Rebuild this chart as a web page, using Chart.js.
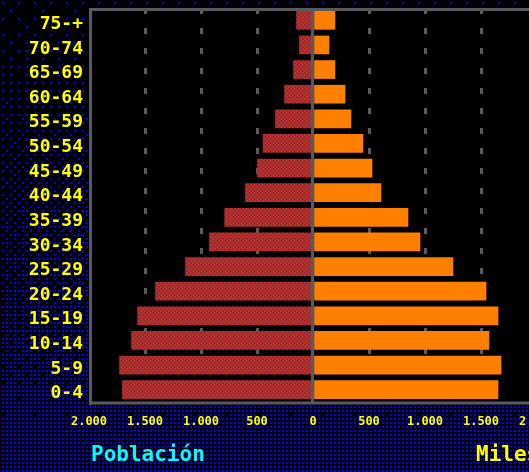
<!DOCTYPE html>
<html>
<head>
<meta charset="utf-8">
<script src="https://cdn.jsdelivr.net/npm/chart.js@4"></script>
<style>
  html, body { margin: 0; padding: 0; background: #000; overflow: hidden; }
  #wrap { position: relative; width: 529px; height: 472px; overflow: hidden; }
  #c { position: absolute; left: 0; top: 0; }
  .cap { position: absolute; top: 444px; font: bold 21px "DejaVu Sans Mono", monospace; line-height: 21px; white-space: nowrap; }
</style>
</head>
<body>
<div id="wrap">
  <canvas id="c" width="545" height="472" style="width:545px;height:472px"></canvas>
  <div class="cap" style="left:91px;color:#00ffff">Población</div>
  <div class="cap" style="left:476px;color:#ffff00">Miles</div>
</div>
<script>
"use strict";

/* ---- Data (miles de personas) ---- */
const AGE_GROUPS = ["75-+", "70-74", "65-69", "60-64", "55-59", "50-54", "45-49", "40-44",
                    "35-39", "30-34", "25-29", "20-24", "15-19", "10-14", "5-9", "0-4"];
const LEFT_VALUES  = [147, 121, 174, 254, 335, 445, 496, 603, 788, 924, 1138, 1406, 1566, 1620, 1727, 1701];
const RIGHT_VALUES = [196, 143, 196, 286, 339, 446, 527, 607, 848, 955, 1250, 1545, 1652, 1571, 1679, 1652];
const X_MIN = -2000, X_MAX = 2000, X_STEP = 500;

const GREY = "#5a5a5a";

/* ---- Red / grey checker fill for the left bars ---- */
function checker() {
  const c = document.createElement("canvas");
  c.width = 4; c.height = 4;
  const g = c.getContext("2d");
  g.fillStyle = GREY;    g.fillRect(0, 0, 4, 4);
  g.fillStyle = "#ff0000";
  g.fillRect(0, 0, 2, 2); g.fillRect(2, 2, 2, 2);
  return g.createPattern(c, "repeat");
}

/* ---- Blue dithered backdrop, black plot area ---- */
const BAYER = [
  [0, 32, 8, 40, 2, 34, 10, 42], [48, 16, 56, 24, 50, 18, 58, 26],
  [12, 44, 4, 36, 14, 46, 6, 38], [60, 28, 52, 20, 62, 30, 54, 22],
  [3, 35, 11, 43, 1, 33, 9, 41],  [51, 19, 59, 27, 49, 17, 57, 25],
  [15, 47, 7, 39, 13, 45, 5, 37], [63, 31, 55, 23, 61, 29, 53, 21],
];

const backdrop = {
  id: "backdrop",
  beforeDraw(chart) {
    const { ctx, width, height, chartArea: a } = chart;
    ctx.save();
    ctx.fillStyle = "#000";
    ctx.fillRect(0, 0, width, height);
    ctx.fillStyle = "#0000ff";
    for (let gy = 0; gy * 4 < height; gy++) {
      const y = gy * 4 + 2;
      const d = Math.min(1, 0.05 + 0.95 * y / 420);
      for (let gx = 0; gx * 4 < width; gx++) {
        if ((BAYER[gy % 8][gx % 8] + 0.5) / 64 < d) ctx.fillRect(gx * 4 + 2, y, 2, 2);
      }
    }
    ctx.fillStyle = "#000";
    ctx.fillRect(a.left, a.top, width - a.left, a.bottom - a.top);
    ctx.restore();
  },
  afterDraw(chart) {
    const { ctx, width, chartArea: a } = chart;
    const x0 = Math.round(chart.scales.x.getPixelForValue(0)) - 0.5;
    ctx.save();
    ctx.strokeStyle = GREY;
    ctx.lineWidth = 3;
    ctx.beginPath();
    ctx.moveTo(a.left + 1.5, a.top + 1.5); ctx.lineTo(width, a.top + 1.5);
    ctx.moveTo(a.left + 1.5, a.top);       ctx.lineTo(a.left + 1.5, a.bottom + 3);
    ctx.moveTo(a.left, a.bottom + 1);      ctx.lineTo(width, a.bottom + 1);
    ctx.moveTo(x0, a.top);                 ctx.lineTo(x0, a.bottom);
    ctx.stroke();
    ctx.restore();
  },
};

function thousands(v) {
  v = Math.abs(v);
  return v >= 1000 ? Math.floor(v / 1000) + "." + String(v % 1000).padStart(3, "0") : String(v);
}

new Chart(document.getElementById("c"), {
  type: "bar",
  data: {
    labels: AGE_GROUPS,
    datasets: [
      { label: "Hombres", data: LEFT_VALUES.map(v => -v), backgroundColor: checker(), borderWidth: 0, barThickness: 18 },
      { label: "Mujeres", data: RIGHT_VALUES, backgroundColor: "#ff8000", borderWidth: 0, barThickness: 18 },
    ],
  },
  options: {
    indexAxis: "y",
    responsive: false,
    animation: false,
    layout: { padding: { top: 8, right: 8, left: 0, bottom: 0 } },
    plugins: { legend: { display: false }, tooltip: { enabled: false } },
    scales: {
      x: {
        min: X_MIN, max: X_MAX,
        grid: {
          drawTicks: false,
          lineWidth: 3,
          color: ctx => (ctx.tick && (ctx.tick.value === 0 || Math.abs(ctx.tick.value) === X_MAX)) ? "rgba(0,0,0,0)" : GREY,
        },
        border: { display: false, dash: [6, 14] },
        ticks: {
          stepSize: X_STEP, autoSkip: false, maxRotation: 0, padding: 13,
          color: "#ffff00",
          font: { family: "'DejaVu Sans Mono', monospace", size: 12, weight: "bold" },
          callback: v => thousands(v),
        },
        afterFit: s => { s.height = 70; s.paddingLeft = 0; s.paddingRight = 0; },
      },
      y: {
        stacked: true,
        grid: { display: false, drawTicks: false },
        border: { display: false },
        ticks: {
          autoSkip: false,
          padding: 6,
          labelOffset: 4,
          color: "#ffff00",
          font: { family: "'DejaVu Sans Mono', monospace", size: 18, weight: "bold" },
        },
        afterFit: s => { s.width = 89; s.paddingTop = 0; s.paddingBottom = 0; },
      },
    },
  },
  plugins: [backdrop],
});
</script>
</body>
</html>
